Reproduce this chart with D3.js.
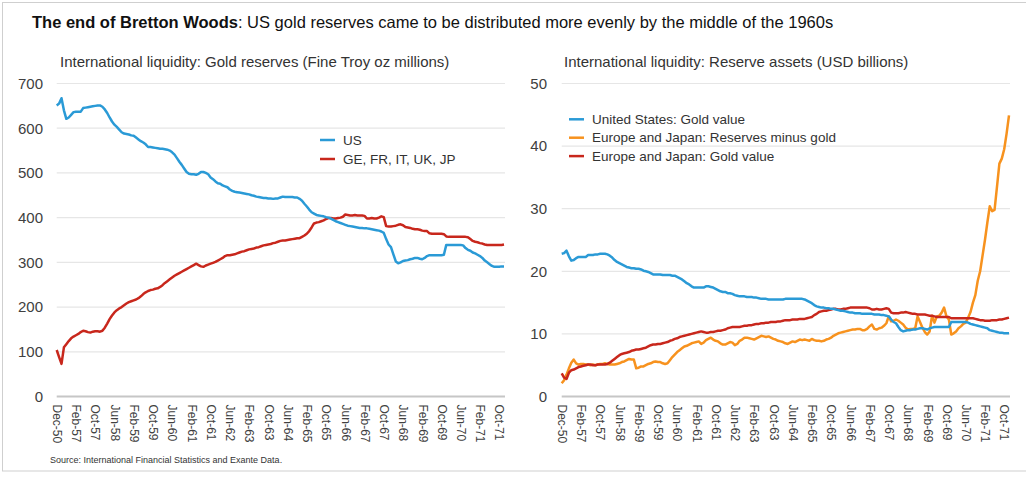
<!DOCTYPE html>
<html><head><meta charset="utf-8">
<script src="https://cdn.jsdelivr.net/npm/d3@7"></script>
<style>
body{margin:0;background:#fff;}
svg{display:block;font-family:"Liberation Sans",Arial,sans-serif;}
</style>
</head><body>
<svg id="c" width="1026" height="481"></svg>
<script>
// ---------- DATA ----------
const tickLabels = ["Dec-50","Feb-57","Oct-57","Jun-58","Feb-59","Oct-59","Jun-60","Feb-61","Oct-61","Jun-62","Feb-63","Oct-63","Jun-64","Feb-65","Oct-65","Jun-66","Feb-67","Oct-67","Jun-68","Feb-69","Oct-69","Jun-70","Feb-71","Oct-71"];
const monthNames = ["Jan","Feb","Mar","Apr","May","Jun","Jul","Aug","Sep","Oct","Nov","Dec"];
const categories = ["Dec-50"];
for (let y = 56; y <= 71; y++) for (let m = 0; m < 12; m++) { if (y === 56 && m < 6) continue; categories.push(monthNames[m] + "-" + y); }

// Left: gold reserves, fine troy oz millions
const usGoldOz = [651,655,667,640,621,624,630,636,637,637,
 637,645,646,647,648,649,650,651,651,648,
 642,634,624,615,608,603,597,591,588,587,
 586,584,583,579,575,571,568,564,558,558,
 557,556,555,554,554,553,552,550,546,541,
 533,525,518,510,502,498,497,497,496,498,
 502,502,500,497,490,486,481,477,476,472,
 470,468,463,460,458,457,456,455,454,453,
 452,450,449,447,446,445,444,444,443,443,
 442,443,443,445,447,446,446,446,446,445,
 445,442,438,431,425,418,412,409,406,405,
 404,403,401,400,398,395,392,390,388,386,
 384,382,381,380,379,378,377,377,376,376,
 375,374,373,372,371,369,366,352,340,334,
 318,302,298,300,303,304,305,307,308,310,
 310,308,307,310,314,316,316,316,316,316,
 316,317,339,339,339,339,339,339,339,338,
 332,328,326,322,320,317,314,310,304,300,
 296,292,290,290,290,291,291];
const euGoldOz = [104,88,73,110,117,124,130,134,137,140,
 144,147,146,144,143,145,146,146,145,147,
 154,163,173,181,188,193,197,200,204,208,
 211,213,215,217,220,224,229,233,236,238,
 239,241,242,245,249,254,258,262,266,270,
 273,276,279,282,285,288,291,294,297,294,
 291,290,293,295,297,299,301,304,307,310,
 314,316,316,317,318,320,322,324,325,327,
 329,330,331,333,334,336,338,339,340,341,
 343,344,346,348,349,349,350,351,352,353,
 354,354,357,360,364,370,378,387,389,390,
 392,394,397,399,399,398,398,399,400,402,
 407,406,405,405,406,405,405,405,404,398,
 398,399,398,398,400,403,401,381,380,380,
 381,382,384,385,383,379,378,377,375,374,
 374,373,371,370,370,365,364,364,364,364,
 364,363,358,357,357,357,357,357,357,357,
 357,356,352,348,346,345,343,342,340,339,
 339,339,339,339,339,339,340];

// Right: reserve assets, USD billions
const usGoldValue = [22.8,22.9,23.3,22.4,21.7,21.8,22.1,22.3,22.3,22.3,
 22.3,22.6,22.6,22.6,22.7,22.7,22.8,22.8,22.8,22.7,
 22.5,22.2,21.8,21.5,21.3,21.1,20.9,20.7,20.6,20.5,
 20.5,20.4,20.4,20.3,20.1,20.0,19.9,19.7,19.5,19.5,
 19.5,19.5,19.4,19.4,19.4,19.4,19.3,19.3,19.1,18.9,
 18.7,18.4,18.1,17.9,17.6,17.4,17.4,17.4,17.4,17.4,
 17.6,17.6,17.5,17.4,17.2,17.0,16.8,16.7,16.7,16.5,
 16.5,16.4,16.2,16.1,16.0,16.0,16.0,15.9,15.9,15.9,
 15.8,15.8,15.7,15.6,15.6,15.6,15.5,15.5,15.5,15.5,
 15.5,15.5,15.5,15.6,15.6,15.6,15.6,15.6,15.6,15.6,
 15.6,15.5,15.3,15.1,14.9,14.6,14.4,14.3,14.2,14.2,
 14.1,14.1,14.0,14.0,13.9,13.8,13.7,13.7,13.6,13.5,
 13.4,13.4,13.3,13.3,13.3,13.2,13.2,13.2,13.2,13.2,
 13.1,13.1,13.1,13.0,13.0,12.9,12.8,12.3,11.9,11.7,
 11.1,10.6,10.4,10.5,10.6,10.6,10.7,10.7,10.8,10.9,
 10.9,10.8,10.7,10.9,11.0,11.1,11.1,11.1,11.1,11.1,
 11.1,11.1,11.9,11.9,11.9,11.9,11.9,11.9,11.9,11.8,
 11.6,11.5,11.4,11.3,11.2,11.1,11.0,10.9,10.6,10.5,
 10.4,10.3,10.2,10.2,10.1,10.1,10.1];
const euReservesExGold = [2.1,2.6,3.5,4.5,5.4,5.9,5.3,5.1,5.2,5.2,
 5.1,5.1,5.0,5.1,5.0,5.1,5.2,5.2,5.3,5.2,
 5.1,5.1,5.1,5.2,5.3,5.5,5.6,5.8,6.0,5.9,
 5.9,4.5,4.6,4.8,4.8,5.0,5.2,5.3,5.5,5.6,
 5.5,5.5,5.3,5.2,5.3,5.8,6.3,6.7,7.1,7.4,
 7.7,8.0,8.1,8.3,8.5,8.6,8.7,8.8,8.4,8.6,
 9.0,9.2,9.4,9.1,8.9,8.8,8.5,8.3,8.3,8.5,
 8.7,8.6,8.2,8.4,8.9,9.1,9.4,9.4,9.3,9.2,
 9.1,9.3,9.5,9.7,9.6,9.5,9.6,9.4,9.2,9.1,
 8.9,8.8,8.7,8.5,8.4,8.6,8.8,8.7,8.9,9.1,
 9.0,9.1,9.0,8.9,9.2,9.0,8.9,8.9,8.8,8.9,
 9.1,9.2,9.4,9.7,9.9,10.1,10.2,10.3,10.4,10.5,
 10.6,10.7,10.7,10.8,10.8,10.6,10.6,10.8,11.2,11.5,
 10.8,10.7,10.9,11.0,11.3,11.7,12.8,12.0,12.1,12.3,
 12.1,11.8,11.5,11.0,10.7,10.8,10.8,10.9,12.8,11.9,
 11.0,10.3,9.9,10.4,12.9,11.8,12.8,12.9,13.4,14.2,
 12.8,12.3,9.9,10.1,10.4,10.9,11.2,11.6,11.8,12.6,
 13.5,15.0,16.2,18.5,20.0,22.5,25.0,27.8,30.4,29.6,
 29.8,33.5,37.2,38.0,39.5,42.0,44.9];
const euGoldValue = [3.7,3.0,2.8,3.8,4.2,4.3,4.5,4.7,4.8,4.9,
 5.0,5.1,5.1,5.0,5.0,5.1,5.1,5.1,5.1,5.2,
 5.4,5.7,6.0,6.3,6.6,6.8,6.9,7.0,7.1,7.3,
 7.4,7.5,7.5,7.6,7.7,7.8,8.0,8.2,8.3,8.3,
 8.4,8.4,8.5,8.6,8.7,8.9,9.0,9.2,9.3,9.5,
 9.6,9.7,9.8,9.9,10.0,10.1,10.2,10.3,10.4,10.3,
 10.2,10.2,10.3,10.3,10.4,10.5,10.5,10.6,10.7,10.9,
 11.0,11.1,11.1,11.1,11.1,11.2,11.3,11.3,11.4,11.4,
 11.5,11.6,11.6,11.7,11.7,11.8,11.8,11.9,11.9,11.9,
 12.0,12.0,12.1,12.2,12.2,12.2,12.3,12.3,12.3,12.4,
 12.4,12.4,12.5,12.6,12.7,13.0,13.2,13.5,13.6,13.7,
 13.7,13.8,13.9,14.0,14.0,13.9,13.9,14.0,14.0,14.1,
 14.2,14.2,14.2,14.2,14.2,14.2,14.2,14.2,14.1,13.9,
 13.9,14.0,13.9,13.9,14.0,14.1,14.0,13.4,13.3,13.3,
 13.3,13.4,13.4,13.5,13.4,13.3,13.2,13.2,13.1,13.1,
 13.1,13.1,13.0,12.9,12.9,12.8,12.7,12.7,12.7,12.7,
 12.7,12.7,12.5,12.5,12.5,12.5,12.5,12.5,12.5,12.5,
 12.5,12.5,12.4,12.3,12.2,12.2,12.1,12.1,12.1,12.2,
 12.2,12.2,12.3,12.3,12.4,12.5,12.6];

const leftTicks = [0,100,200,300,400,500,600,700];
const rightTicks = [0,10,20,30,40,50];

// ---------- DRAW ----------
const BLUE = "#2a9ad6", RED = "#c8271c", ORANGE = "#f7921e";
const svg = d3.select("#c");
svg.append("rect").attr("width",1026).attr("height",481).attr("fill","#fff");
svg.append("rect").attr("x",2.5).attr("y",2.5).attr("width",1040).attr("height",468.5)
  .attr("fill","none").attr("stroke","#cfcfcf").attr("stroke-width",1);

svg.append("text").attr("x",32).attr("y",28).attr("font-size",16.5).attr("fill","#111")
  .call(t => {
    t.append("tspan").attr("font-weight","bold").text("The end of Bretton Woods");
    t.append("tspan").text(": US gold reserves came to be distributed more evenly by the middle of the 1960s");
  });

svg.append("text").attr("x",50).attr("y",463).attr("font-size",9).attr("fill","#333")
  .text("Source: International Financial Statistics and Exante Data.");

function panel(opts) {
  const g = svg.append("g");
  const x = d3.scalePoint().domain(categories).range(opts.xr);
  const y = d3.scaleLinear().domain(opts.ydom).range([396.5, 83.5]);
  // subtitle
  g.append("text").attr("x", opts.subX).attr("y", 67).attr("font-size", 15).attr("fill", "#333").text(opts.subtitle);
  // gridlines
  g.append("g").selectAll("line").data(opts.ticks.filter(d => d > 0)).join("line")
    .attr("x1", opts.xr[0]).attr("x2", opts.xr[1] + 1).attr("y1", d => y(d)).attr("y2", d => y(d))
    .attr("stroke", "#e6e6e6").attr("stroke-width", 1.2);
  // y axis labels
  const ya = g.append("g").attr("transform", `translate(${opts.yLabX},0)`)
    .call(d3.axisLeft(y).tickValues(opts.ticks).tickSize(0).tickPadding(0));
  ya.select(".domain").remove();
  ya.selectAll("text").attr("font-size", 15).attr("fill", "#404040").attr("font-family", "Liberation Sans, Arial, sans-serif");
  // x axis
  const xa = g.append("g").attr("transform", `translate(0,${y(0)})`)
    .call(d3.axisBottom(x).tickValues(tickLabels).tickSize(0));
  xa.select(".domain").attr("d", `M${opts.xr[0]},0H${opts.xr[1] + 1}`).attr("stroke", "#c6c6c6").attr("stroke-width", 2.2);
  xa.selectAll("text").attr("font-size", 12).attr("fill", "#404040").attr("font-family", "Liberation Sans, Arial, sans-serif")
    .attr("text-anchor", "start").attr("transform", "rotate(90)").attr("x", 8).attr("y", 0).attr("dy", "0.35em");
  // lines
  const line = d3.line().x((d, i) => x(categories[i])).y(d => y(d));
  opts.series.forEach(s => {
    g.append("path").datum(s.values).attr("d", line).attr("fill", "none")
      .attr("stroke", s.color).attr("stroke-width", 2.5).attr("stroke-linejoin", "round");
  });
  // legend
  opts.series.slice().sort((a, b) => a.legendOrder - b.legendOrder).forEach((s, k) => {
    const ly = opts.legY + k * opts.legStep;
    g.append("line").attr("x1", opts.legX).attr("x2", opts.legX + 15).attr("y1", ly).attr("y2", ly)
      .attr("stroke", s.color).attr("stroke-width", 2.5);
    g.append("text").attr("x", opts.legX + 23).attr("y", ly).attr("dy", "0.35em")
      .attr("font-size", 13.5).attr("fill", "#333").text(s.name);
  });
}

panel({
  xr: [56.7, 504], ydom: [0, 700], ticks: leftTicks, yLabX: 43, subX: 60,
  subtitle: "International liquidity: Gold reserves (Fine Troy oz millions)",
  legX: 320, legY: 140, legStep: 19,
  series: [
    { name: "GE, FR, IT, UK, JP", values: euGoldOz, color: RED, legendOrder: 1 },
    { name: "US", values: usGoldOz, color: BLUE, legendOrder: 0 }
  ]
});
panel({
  xr: [561.7, 1009], ydom: [0, 50], ticks: rightTicks, yLabX: 547, subX: 564,
  subtitle: "International liquidity: Reserve assets (USD billions)",
  legX: 569, legY: 119.3, legStep: 18.4,
  series: [
    { name: "Europe and Japan: Reserves minus gold", values: euReservesExGold, color: ORANGE, legendOrder: 1 },
    { name: "Europe and Japan: Gold value", values: euGoldValue, color: RED, legendOrder: 2 },
    { name: "United States: Gold value", values: usGoldValue, color: BLUE, legendOrder: 0 }
  ]
});
</script>
</body></html>
